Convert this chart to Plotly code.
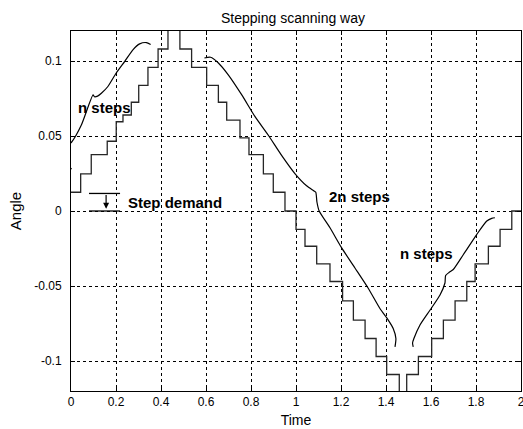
import plotly.graph_objects as go

# ---- data ----
# staircase (step demand) : switching times and level held after each time
stair_t = [0, 0.043, 0.090, 0.161, 0.201, 0.231, 0.268, 0.301, 0.342, 0.387, 0.431,
           0.484, 0.536, 0.603, 0.655, 0.692, 0.751, 0.791, 0.855, 0.899, 0.951, 1.000,
           1.040, 1.092, 1.151, 1.207, 1.255, 1.307, 1.356, 1.403, 1.459,
           1.492, 1.544, 1.603, 1.655, 1.707, 1.759, 1.796, 1.855, 1.907, 1.959, 2.0]
stair_y = [0.0125, 0.0248, 0.0376, 0.0465, 0.0595, 0.064, 0.0725, 0.0837, 0.0958, 0.108, 0.13,
           0.108, 0.0958, 0.0837, 0.0725, 0.0606, 0.0488, 0.0376, 0.0248, 0.0125, 0.0, -0.0123,
           -0.0235, -0.0353, -0.047, -0.0599, -0.0727, -0.085, -0.097, -0.109, -0.13,
           -0.109, -0.097, -0.085, -0.0727, -0.0599, -0.047, -0.0353, -0.0235, -0.0123, 0.0, 0.0]

# smooth scan curves
curve1_t = [0.003, -0.02, -0.034, -0.02, 0.003, 0.046, 0.098, 0.104, 0.118, 0.135, 0.164,
            0.201, 0.239, 0.276, 0.305, 0.335, 0.354]
curve1_y = [0.028, 0.031, 0.037, 0.043, 0.046, 0.0573, 0.0774, 0.0762, 0.0766, 0.0785, 0.083,
            0.092, 0.0998, 0.1076, 0.1114, 0.1123, 0.111]

curve2_t = [0.593, 0.62, 0.655, 0.699, 0.759, 0.818, 0.877, 0.936, 0.996, 1.047, 1.080,
            1.088, 1.093, 1.103, 1.151, 1.203, 1.262, 1.321, 1.373, 1.41, 1.432, 1.444, 1.44]
curve2_y = [0.102, 0.1025, 0.0987, 0.0908, 0.0774, 0.0629, 0.0505, 0.0371, 0.0248, 0.0168, 0.0134,
            0.0125, 0.006, 0.0, -0.0112, -0.0246, -0.038, -0.0515, -0.065, -0.0727, -0.0783, -0.085, -0.0906]

curve3_t = [1.521, 1.518, 1.524, 1.551, 1.596, 1.64, 1.662, 1.665, 1.68, 1.699, 1.744,
            1.803, 1.848, 1.87, 1.884]
curve3_y = [-0.0906, -0.088, -0.085, -0.076, -0.066, -0.056, -0.048, -0.043, -0.041, -0.039, -0.029,
            -0.0157, -0.0067, -0.0049, -0.0045]

x_ticks = [0, 0.2, 0.4, 0.6, 0.8, 1, 1.2, 1.4, 1.6, 1.8, 2]
x_ticklabels = ["0", "0.2", "0.4", "0.6", "0.8", "1", "1.2", "1.4", "1.6", "1.8", "2"]
y_ticks = [-0.1, -0.05, 0, 0.05, 0.1]
y_ticklabels = ["-0.1", "-0.05", "0", "0.05", "0.1"]

labels = ["n steps", "2n steps", "n steps", "Step demand"]
label_t = [0.151, 1.284, 1.581, 0.462]
label_y = [0.0688, 0.0094, -0.0282, 0.0057]

step_demand_t = [0.08, 0.218]
step_demand_y = [0.0117, 0.0]
step_arrow_t = 0.156

FONT = "Liberation Sans, Arial, sans-serif"

fig = go.Figure()
fig.add_trace(go.Scatter(x=stair_t, y=stair_y, mode="lines", line_shape="hv",
                         line=dict(color="#262626", width=1.3), showlegend=False))
for ct, cy in [(curve1_t, curve1_y), (curve2_t, curve2_y), (curve3_t, curve3_y)]:
    fig.add_trace(go.Scatter(x=ct, y=cy, mode="lines", line_shape="spline",
                             line=dict(color="black", width=1.2, smoothing=0.6), showlegend=False))

# step demand marker lines
for yv in step_demand_y:
    fig.add_trace(go.Scatter(x=step_demand_t, y=[yv, yv], mode="lines",
                             line=dict(color="black", width=1.3), showlegend=False))

fig.add_annotation(x=step_arrow_t, y=step_demand_y[1] + 0.0015, ax=step_arrow_t, ay=step_demand_y[0],
                   xref="x", yref="y", axref="x", ayref="y", text="", showarrow=True,
                   arrowhead=2, arrowsize=1, arrowwidth=1.2, arrowcolor="black")

for txt, tx, ty in zip(labels, label_t, label_y):
    fig.add_annotation(x=tx, y=ty, xref="x", yref="y", text="<b>" + txt + "</b>",
                       showarrow=False, font=dict(family=FONT, size=15, color="black"))

axis_common = dict(showline=True, linecolor="black", linewidth=1, mirror="ticks",
                   ticks="inside", ticklen=4, tickcolor="black",
                   showgrid=True, gridcolor="black", gridwidth=1, griddash="3px,3px",
                   zeroline=False, ticklabeloverflow="allow", automargin=False,
                   tickfont=dict(family=FONT, size=12, color="black"))

fig.update_xaxes(range=[0, 2], tickvals=x_ticks, ticktext=x_ticklabels,
                 title=dict(text="Time", font=dict(family=FONT, size=14, color="black"), standoff=6),
                 **axis_common)
fig.update_yaxes(range=[-0.12, 0.12], tickvals=y_ticks, ticktext=y_ticklabels,
                 ticklabelstandoff=6,
                 title=dict(text="Angle", font=dict(family=FONT, size=15, color="black"), standoff=8),
                 **axis_common)

fig.update_layout(
    width=523, height=429,
    margin=dict(l=71, r=2, t=31, b=38),
    paper_bgcolor="white", plot_bgcolor="white",
    title=dict(text="Stepping scanning way", x=293 / 523,
               xanchor="center", y=1 - 18 / 429, yanchor="middle", yref="container",
               font=dict(family=FONT, size=14, color="black")),
    showlegend=False,
)

fig.write_html("out.html")
